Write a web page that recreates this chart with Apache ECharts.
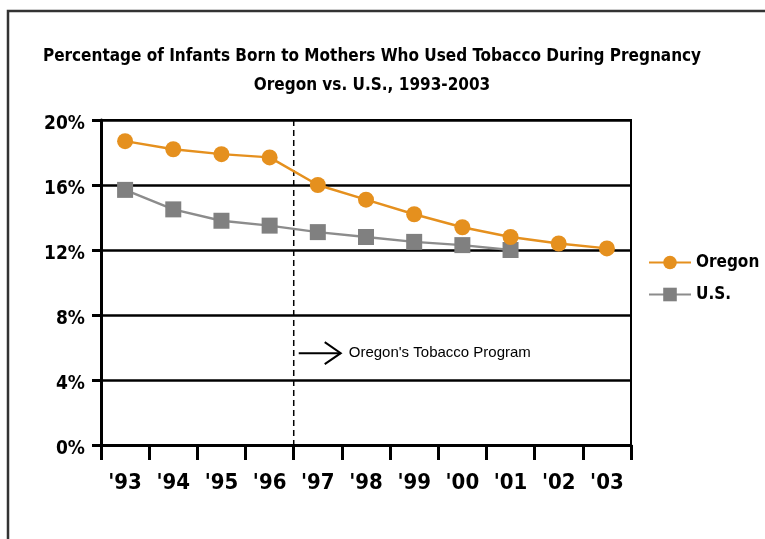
<!DOCTYPE html>
<html>
<head>
<meta charset="utf-8">
<script src="https://cdn.jsdelivr.net/npm/echarts@6/dist/echarts.min.js"></script>
<style>
  html, body { margin: 0; padding: 0; background: #fff; }
  #eChart { width: 765px; height: 539px; }
</style>
</head>
<body>
<div id="eChart"></div>
<script>
// values
var years = ["'93", "'94", "'95", "'96", "'97", "'98", "'99", "'00", "'01", "'02", "'03"];
var oregon = [18.7, 18.2, 17.9, 17.7, 16.0, 15.1, 14.2, 13.4, 12.8, 12.4, 12.1];
var us = [15.7, 14.5, 13.8, 13.5, 13.1, 12.8, 12.5, 12.3, 12.0, null, null];
var yTicks = [0, 4, 8, 12, 16, 20];
var noteText = "Oregon's Tobacco Program";

var narrow = "'DejaVu Sans Condensed', 'Liberation Sans Narrow', sans-serif";

var option = {
    animation: false,
    backgroundColor: '#fff',
    title: {
        text: 'Percentage of Infants Born to Mothers Who Used Tobacco During Pregnancy\nOregon vs. U.S., 1993-2003',
        left: 367,
        top: 37,
        textAlign: 'center',
        textStyle: {
            fontFamily: narrow,
            fontWeight: 'bold',
            fontSize: 17,
            lineHeight: 29,
            color: '#000'
        }
    },
    legend: {
        orient: 'vertical',
        left: 648,
        top: 254,
        padding: 0,
        itemWidth: 42,
        itemHeight: 17,
        itemGap: 15,
        textStyle: {
            fontFamily: narrow,
            fontWeight: 'bold',
            fontSize: 17,
            color: '#000'
        },
        data: ['Oregon', 'U.S.']
    },
    grid: {
        left: 101,
        right: 134,
        top: 120,
        bottom: 94,
        show: true,
        borderColor: '#000',
        borderWidth: 2
    },
    xAxis: {
        type: 'category',
        data: years,
        boundaryGap: true,
        axisLine: { show: true, lineStyle: { color: '#000', width: 3 } },
        axisTick: { show: true, alignWithLabel: false, inside: false, length: 15, interval: 0, lineStyle: { color: '#000', width: 3 } },
        axisLabel: {
            interval: 0,
            margin: 27,
            fontFamily: narrow,
            fontWeight: 'bold',
            fontSize: 22,
            color: '#000'
        }
    },
    yAxis: {
        type: 'value',
        min: yTicks[0],
        max: yTicks[yTicks.length - 1],
        interval: 4,
        axisLine: { show: true, lineStyle: { color: '#000', width: 3 } },
        axisTick: { show: true, length: 9, lineStyle: { color: '#000', width: 3 } },
        splitLine: { lineStyle: { color: '#000', width: 2.5 } },
        axisLabel: {
            formatter: '{a|{value}%}',
            margin: 16,
            rich: {
                a: {
                    padding: [9, 0, 0, 0],
                    fontFamily: narrow,
                    fontWeight: 'bold',
                    fontSize: 19,
                    color: '#000'
                }
            }
        }
    },
    series: [
        {
            name: 'Oregon',
            type: 'line',
            data: oregon,
            symbol: 'circle',
            symbolSize: 16,
            color: '#E5901E',
            lineStyle: { width: 2.5, color: '#E5901E' },
            itemStyle: { color: '#E5901E' },
            z: 3
        },
        {
            name: 'U.S.',
            type: 'line',
            data: us,
            symbol: 'rect',
            symbolSize: 16,
            color: '#808080',
            lineStyle: { width: 2.5, color: '#8C8C8C' },
            itemStyle: { color: '#808080' },
            z: 2
        }
    ]
};

var chart = echarts.init(document.getElementById('eChart'));
chart.setOption(option);

// program start line sits between '96 and '97; the note is placed from the axes
var p96 = chart.convertToPixel({ gridIndex: 0 }, [3, 0]);
var p97 = chart.convertToPixel({ gridIndex: 0 }, [4, 0]);
var pTop = chart.convertToPixel({ gridIndex: 0 }, [0, 20]);
var xLine = (p96[0] + p97[0]) / 2;
var yNote = chart.convertToPixel({ gridIndex: 0 }, [0, 5.65])[1];

chart.setOption({
    graphic: [
        {
            type: 'rect',
            shape: { x: 8, y: 11, width: 800, height: 600 },
            style: { fill: 'none', stroke: '#333', lineWidth: 2.5 },
            silent: true
        },
        {
            type: 'line',
            shape: { x1: xLine, y1: pTop[1], x2: xLine, y2: p96[1] },
            style: { stroke: '#000', lineWidth: 1.5, lineDash: [6, 4] },
            silent: true
        },
        {
            type: 'polyline',
            shape: { points: [[xLine + 5, yNote], [xLine + 47, yNote]] },
            style: { stroke: '#000', lineWidth: 2, fill: 'none' },
            silent: true
        },
        {
            type: 'polyline',
            shape: { points: [[xLine + 31, yNote - 11], [xLine + 47, yNote], [xLine + 31, yNote + 11]] },
            style: { stroke: '#000', lineWidth: 2, fill: 'none' },
            silent: true
        },
        {
            type: 'text',
            x: xLine + 55,
            y: yNote,
            style: {
                text: noteText,
                fontFamily: "'Liberation Sans', sans-serif",
                fontSize: 15,
                fill: '#000',
                verticalAlign: 'middle'
            },
            silent: true
        }
    ]
});
</script>
</body>
</html>
